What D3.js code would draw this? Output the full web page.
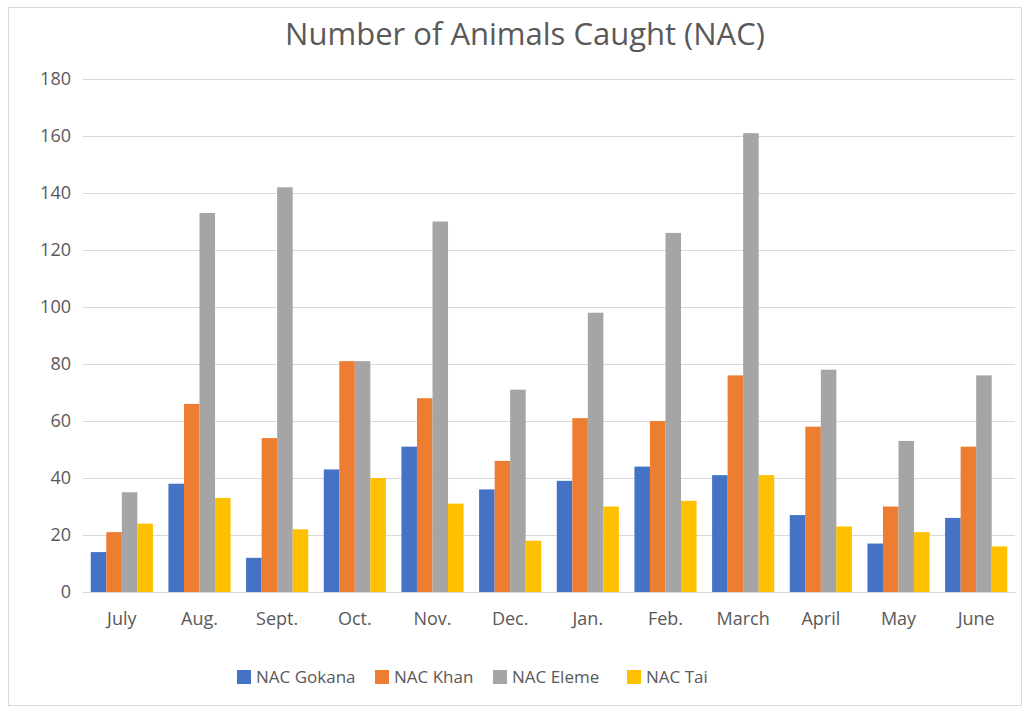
<!DOCTYPE html>
<html>
<head>
<meta charset="utf-8">
<script src="https://cdn.jsdelivr.net/npm/d3@7"></script>
<style>
  body { margin: 0; background: #fff; }
  svg { display: block; font-family: "Open Sans", "Noto Sans", sans-serif; }
</style>
</head>
<body>
<svg id="chart" width="1030" height="713"></svg>
<script>
// Monthly catch counts per site
const months = ["July", "Aug.", "Sept.", "Oct.", "Nov.", "Dec.", "Jan.", "Feb.", "March", "April", "May", "June"];
const seriesNames = ["NAC Gokana", "NAC Khan", "NAC Eleme", "NAC Tai"];
const gokana = [14, 38, 12, 43, 51, 36, 39, 44, 41, 27, 17, 26];
const khan   = [21, 66, 54, 81, 68, 46, 61, 60, 76, 58, 30, 51];
const eleme  = [35, 133, 142, 81, 130, 71, 98, 126, 161, 78, 53, 76];
const tai    = [24, 33, 22, 40, 31, 18, 30, 32, 41, 23, 21, 16];
const yTicks = [0, 20, 40, 60, 80, 100, 120, 140, 160, 180];
const colors = ["#4472C4", "#ED7D31", "#A5A5A5", "#FFC000"];

const seriesValues = [gokana, khan, eleme, tai];

const svg = d3.select("#chart");
const W = 1030, H = 713;
const margin = { left: 83, right: 15, top: 79, bottom: 121 };
const plotW = W - margin.left - margin.right;
const plotH = H - margin.top - margin.bottom;

// chart frame
svg.append("rect")
  .attr("x", 8.5).attr("y", 7.5)
  .attr("width", 1013).attr("height", 698)
  .attr("fill", "#fff").attr("stroke", "#d9d9d9");

svg.append("text")
  .attr("x", 525).attr("y", 45)
  .attr("text-anchor", "middle")
  .attr("fill", "#595959")
  .attr("font-size", 31)
  .text("Number of Animals Caught (NAC)");

const g = svg.append("g").attr("transform", `translate(${margin.left},${margin.top})`);

const x = d3.scaleBand().domain(months).range([0, plotW]).paddingInner(0.2).paddingOuter(0.1);
const xInner = d3.scaleBand().domain(seriesNames).range([0, x.bandwidth()]);
const y = d3.scaleLinear().domain([0, 180]).range([plotH, 0]);

// gridlines + y labels
const yAxis = d3.axisLeft(y).tickValues(yTicks).tickSize(-plotW).tickPadding(12);
const ya = g.append("g").call(yAxis);
ya.select(".domain").remove();
ya.selectAll(".tick line").attr("stroke", "#d9d9d9").attr("stroke-width", 1.2);
ya.selectAll(".tick text").attr("fill", "#595959").attr("font-size", 18).attr("font-family", "Open Sans, sans-serif");

// bars
const groups = g.selectAll(".month")
  .data(months)
  .join("g")
  .attr("transform", d => `translate(${x(d)},0)`);

groups.selectAll("rect")
  .data((m, i) => seriesNames.map((s, k) => ({ s, k, v: seriesValues[k][i] })))
  .join("rect")
  .attr("x", d => xInner(d.s))
  .attr("y", d => y(d.v))
  .attr("width", xInner.bandwidth())
  .attr("height", d => plotH - y(d.v))
  .attr("fill", d => colors[d.k]);

// x axis line and labels
const xAxis = d3.axisBottom(x).tickSize(0).tickPadding(20);
const xa = g.append("g").attr("transform", `translate(0,${plotH})`).call(xAxis);
xa.select(".domain").attr("stroke", "#d9d9d9").attr("stroke-width", 1.2);
xa.selectAll(".tick text").attr("fill", "#595959").attr("font-size", 18).attr("font-family", "Open Sans, sans-serif");

// legend
const legendX = [237, 375, 493, 627];
const legend = svg.append("g").selectAll("g")
  .data(seriesNames)
  .join("g")
  .attr("transform", (d, i) => `translate(${legendX[i]},670)`);
legend.append("rect").attr("width", 14).attr("height", 14).attr("fill", (d, i) => colors[i]);
legend.append("text")
  .attr("x", 19).attr("y", 7).attr("dy", "0.35em")
  .attr("fill", "#595959").attr("font-size", 17)
  .text(d => d);
</script>
</body>
</html>
